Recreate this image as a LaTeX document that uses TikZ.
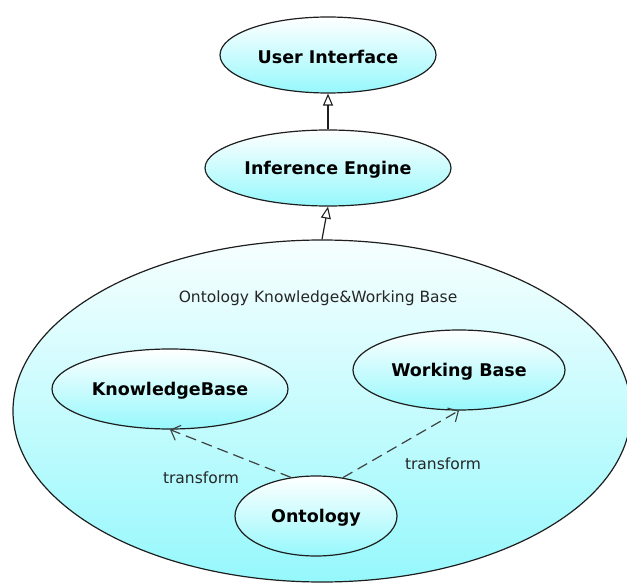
\documentclass[tikz,border=0pt]{standalone}
\usepackage{fontspec}
\setmainfont{DejaVu Sans}
\usetikzlibrary{shapes.geometric,arrows.meta}
\definecolor{cyanbot}{RGB}{150,248,252}
\definecolor{edgecol}{RGB}{30,30,30}
\begin{document}
\begin{tikzpicture}[x=1pt,y=-1pt,
  uc/.style={ellipse, draw=edgecol, line width=1.2pt, top color=white, bottom color=cyanbot, inner sep=0pt},
  bt/.style={font=\bfseries\fontsize{17.5}{20}\selectfont, yshift=-2pt},
  plain/.style={font=\fontsize{15.5}{18}\selectfont, text=black!85},
  gen/.style={draw=edgecol, line width=1.2pt, -{Triangle[open,length=12pt,width=10pt,line width=1.1pt]}},
  dep/.style={draw=edgecol!85, line width=1.2pt, dash pattern=on 11pt off 6pt, -{Straight Barb[length=8pt,width=16pt,line width=1.1pt]}}]
\useasboundingbox (0,0) rectangle (627,583);
\node[uc, minimum width=618pt, minimum height=342pt, top color=cyanbot!8, bottom color=cyanbot] (okwb) at (322,411) {};
\node[plain] (okwbt) at (318,298) {Ontology Knowledge\&Working Base};
\node[uc, minimum width=216pt, minimum height=76pt, label={[bt]center:User Interface}] (ui) at (328,55) {};
\node[uc, minimum width=246pt, minimum height=76pt, label={[bt]center:Inference Engine}] (ie) at (328,168) {};
\node[uc, minimum width=236pt, minimum height=80pt, label={[bt]center:KnowledgeBase}] (kb) at (170,389) {};
\node[uc, minimum width=212pt, minimum height=80pt, label={[bt]center:Working Base}] (wb) at (459,370) {};
\node[uc, minimum width=162pt, minimum height=80pt, label={[bt]center:Ontology}] (ont) at (316,516) {};
\draw[gen] (ie.north) -- (ui.south);
\draw[gen] (okwb.north) -- (ie.south);
\draw[dep] (ont.123) -- (kb.south);
\draw[dep] (ont.55) -- (wb.south);
\node[plain] (tl) at (201,478) {transform};
\node[plain] (tr) at (443,464) {transform};
\end{tikzpicture}
\end{document}
